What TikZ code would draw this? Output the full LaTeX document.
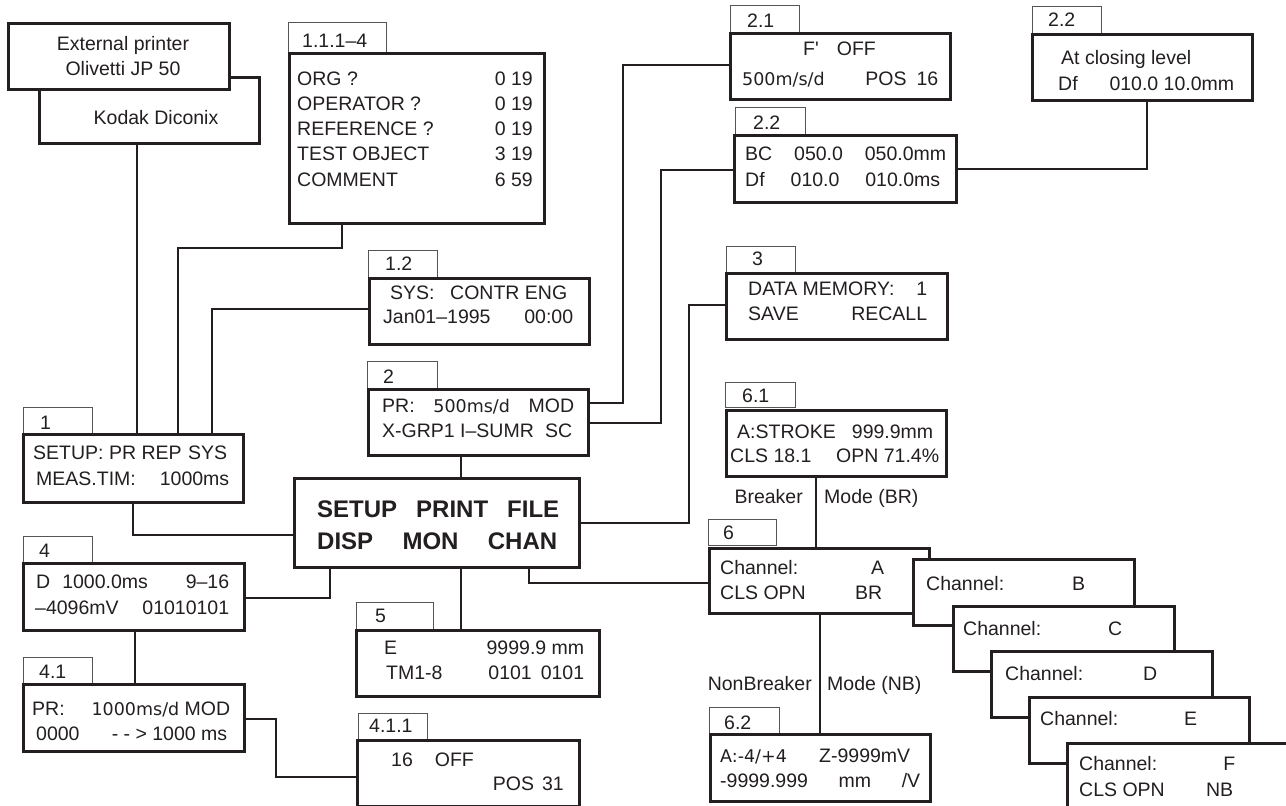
\documentclass[tikz,border=0pt]{standalone}
\usepackage{fontspec}
\setmainfont{Liberation Sans}
\newfontfamily\dvs{DejaVu Sans}
\definecolor{ink}{HTML}{231F20}
\definecolor{lblgray}{HTML}{555555}
\newcommand\spread[2]{\makebox[#1pt][l]{#2}}
\newcommand\vv[1]{{\dvs\fontsize{17.5}{21}\selectfont #1}}
\tikzset{
  scr/.style={draw=ink, line width=2.8pt, fill=white, inner sep=0pt, anchor=north west},
  lbl/.style={draw=lblgray, line width=1.3pt, fill=white, inner sep=0pt, anchor=north west},
  conn/.style={draw=ink, line width=2.8pt},
  tx/.style={inner sep=0pt, font=\fontsize{19.5}{23}\selectfont, text=ink},
  bx/.style={inner sep=0pt, font=\bfseries\fontsize{24}{28}\selectfont, text=ink},
}
\newcommand\mkbox[6][scr]{\node[#1, minimum width=#5pt, minimum height=#6pt] (#2) at (#3,#4) {};}
\begin{document}
\begin{tikzpicture}[x=1pt,y=-1pt]
\useasboundingbox (0,0) rectangle (1286,806);
\clip (0,0) rectangle (1286,806);

% ---------- boxes (nodes) ----------
\mkbox{kod}{38}{76}{220}{66}
\mkbox{ext}{7}{22}{221}{66}
\mkbox[lbl]{l111}{288}{22}{98}{30}
\mkbox{b111}{288}{52}{255}{170}
\mkbox[lbl]{l12}{368}{250}{69}{27}
\mkbox{b12}{368}{277}{220}{66}
\mkbox[lbl]{l2}{367}{361}{70}{27}
\mkbox{b2}{367}{388}{220}{66}
\mkbox[lbl]{l1}{23}{407}{69}{26}
\mkbox{b1}{22}{433}{220}{68}
\mkbox{main}{293}{477}{285}{89}
\mkbox[lbl]{l4}{23}{536}{69}{26}
\mkbox{b4}{22}{562}{221}{67}
\mkbox[lbl]{l41}{23}{657}{69}{26}
\mkbox{b41}{22}{683}{221}{67}
\mkbox[lbl]{l411}{358}{713}{69}{26}
\mkbox{b411}{356}{739}{222}{66}
\mkbox[lbl]{l5}{356}{602}{77}{27}
\mkbox{b5}{355}{629}{243}{66}
\mkbox[lbl]{l21}{730}{5}{69}{27}
\mkbox{b21}{729}{32}{220}{66}
\mkbox[lbl]{l22}{735}{107}{70}{27}
\mkbox{b22}{733}{134}{222}{67}
\mkbox[lbl]{l22r}{1032}{6}{69}{27}
\mkbox{b22r}{1031}{33}{220}{66}
\mkbox[lbl]{l3}{726}{246}{69}{26}
\mkbox{b3}{725}{272}{221}{66}
\mkbox[lbl]{l61}{725}{382}{70}{25}
\mkbox{b61}{725}{409}{220}{66}
\mkbox[lbl]{l6}{708}{519}{68}{26}
\mkbox{b6}{708}{547}{220}{65}
\mkbox{chB}{912}{558}{221}{66}
\mkbox{chC}{952}{605}{221}{65}
\mkbox{chD}{990}{650}{221}{66}
\mkbox{chE}{1028}{696}{220}{66}
\mkbox{chF}{1066}{742}{221}{66}
\mkbox[lbl]{l62}{709}{707}{70}{26}
\mkbox{b62}{709}{733}{220}{67}

% ---------- connectors ----------
\draw[conn] (kod.south -| 137,0) -- (b1.north -| 137,0);
\draw[conn] (b111.south -| 342,0) -- (342,248) -- (178,248) -- (b1.north -| 178,0);
\draw[conn] (b12.west |- 0,309) -- (212,309) -- (b1.north -| 212,0);
\draw[conn] (b1.south -| 133,0) -- (133,535) -- (main.west |- 0,535);
\draw[conn] (b2.east |- 0,403) -- (623,403) -- (623,65) -- (b21.west |- 0,65);
\draw[conn] (b2.east |- 0,423) -- (661,423) -- (661,170) -- (b22.west |- 0,170);
\draw[conn] (b2.south -| 461,0) -- (main.north -| 461,0);
\draw[conn] (b22.east |- 0,169) -- (1147,169) -- (b22r.south -| 1147,0);
\draw[conn] (main.east |- 0,523) -- (689,523) -- (689,305) -- (b3.west |- 0,305);
\draw[conn] (main.south -| 330,0) -- (330,598) -- (b4.east |- 0,598);
\draw[conn] (b4.south -| 135,0) -- (b41.north -| 135,0);
\draw[conn] (b41.east |- 0,719) -- (276,719) -- (276,777) -- (b411.west |- 0,777);
\draw[conn] (main.south -| 461,0) -- (b5.north -| 461,0);
\draw[conn] (main.south -| 529,0) -- (529,583) -- (b6.west |- 0,583);
\draw[conn] (b61.south -| 816,0) -- (b6.north -| 816,0);
\draw[conn] (b6.south -| 820,0) -- (b62.north -| 820,0);

% ---------- label texts ----------
\node[tx, anchor=base west] (tl111) at (302,47) {1.1.1–4};
\node[tx, anchor=base west] (tl12) at (385,270) {1.2};
\node[tx, anchor=base west] (tl2) at (383,383) {2};
\node[tx, anchor=base west] (tl1) at (40,429) {1};
\node[tx, anchor=base west] (tl4) at (39,557) {4};
\node[tx, anchor=base west] (tl41) at (39,678) {4.1};
\node[tx, anchor=base west] (tl411) at (369,732) {4.1.1};
\node[tx, anchor=base west] (tl5) at (375,622) {5};
\node[tx, anchor=base west] (tl6) at (723,539) {6};
\node[tx, anchor=base west] (tl62) at (724,729) {6.2};
\node[tx, anchor=base west] (tl61) at (742,402) {6.1};
\node[tx, anchor=base west] (tl3) at (752,265) {3};
\node[tx, anchor=base west] (tl21) at (747,27) {2.1};
\node[tx, anchor=base west] (tl22) at (753,129) {2.2};
\node[tx, anchor=base west] (tl22r) at (1048,26) {2.2};

% ---------- box texts ----------
\node[tx, anchor=base] (text1) at (123,50) {External printer};
\node[tx, anchor=base] (text2) at (123,75) {Olivetti JP 50};
\node[tx, anchor=base] (tkod) at (156,124) {Kodak Diconix};

\node[tx, anchor=base west] (o1) at (297,85) {ORG ?};
\node[tx, anchor=base west] (o2) at (297,110) {OPERATOR ?};
\node[tx, anchor=base west] (o3) at (297,135) {REFERENCE ?};
\node[tx, anchor=base west] (o4) at (297,160) {TEST OBJECT};
\node[tx, anchor=base west] (o5) at (297,186) {COMMENT};
\node[tx, anchor=base east] (v1) at (533,85) {0 19};
\node[tx, anchor=base east] (v2) at (533,110) {0 19};
\node[tx, anchor=base east] (v3) at (533,135) {0 19};
\node[tx, anchor=base east] (v4) at (533,160) {3 19};
\node[tx, anchor=base east] (v5) at (533,186) {6 59};

\node[tx, anchor=base west] (s1) at (390,299) {\spread{177}{SYS:\hfill CONTR ENG}};
\node[tx, anchor=base west] (s2) at (383,323) {\spread{190}{Jan01–1995\hfill 00:00}};

\node[tx, anchor=base west] (p1) at (382,412) {\spread{192}{PR:\hfill \vv{500ms/d}\hfill MOD}};
\node[tx, anchor=base west] (p2) at (382,437) {\spread{190}{X-GRP1 I–SUMR\hfill SC}};

\node[tx, anchor=base west] (u1) at (33,459) {\spread{194}{SETUP: PR REP\hfill SYS}};
\node[tx, anchor=base west] (u2) at (36,485) {\spread{193}{MEAS.TIM:\hfill 1000ms}};

\node[bx, anchor=base west] (m1) at (317,517) {\spread{242}{SETUP\hfill PRINT\hfill FILE}};
\node[bx, anchor=base west] (m2) at (317,549) {\spread{240}{DISP\hfill MON\hfill CHAN}};

\node[tx, anchor=base west] (d1) at (36,588) {\spread{193}{D\hspace{12pt}1000.0ms\hfill 9–16}};
\node[tx, anchor=base west] (d2) at (35,614) {\spread{194}{–4096mV\hfill 01010101}};

\node[tx, anchor=base west] (r1) at (32,715) {\spread{198}{PR:\hfill \vv{1000ms/d} MOD}};
\node[tx, anchor=base west] (r2) at (36,740) {\spread{191}{0000\hfill - - > 1000 ms}};

\node[tx, anchor=base west] (q1) at (391,766) {16\hspace{22pt}OFF};
\node[tx, anchor=base east] (q2) at (564,790) {POS\hspace{8pt}31};

\node[tx, anchor=base west] (e1) at (384,654) {\spread{200}{E\hfill 9999.9 mm}};
\node[tx, anchor=base west] (e2) at (386,679) {\spread{198}{TM1-8\hfill 0101\hspace{9pt}0101}};

\node[tx, anchor=base west] (f1) at (803,55) {F\textquotesingle\hspace{18pt}OFF};
\node[tx, anchor=base west] (f2) at (742,85) {\spread{196}{\vv{500m/s/d}\hfill POS\hspace{10pt}16}};

\node[tx, anchor=base west] (g1) at (745,160) {\spread{201}{BC\hfill 050.0\hfill 050.0mm}};
\node[tx, anchor=base west] (g2) at (745,186) {\spread{195}{Df\hfill 010.0\hfill 010.0ms}};

\node[tx, anchor=base west] (h1) at (1061,64) {At closing level};
\node[tx, anchor=base west] (h2) at (1058,90) {\spread{176}{Df\hfill 010.0 10.0mm}};

\node[tx, anchor=base west] (k1) at (748,295) {\spread{179}{DATA MEMORY:\hfill 1}};
\node[tx, anchor=base west] (k2) at (748,320) {\spread{179}{SAVE\hfill RECALL}};

\node[tx, anchor=base west] (a1) at (737,438) {\spread{196}{A:STROKE\hfill 999.9mm}};
\node[tx, anchor=base west] (a2) at (730,462) {\spread{209}{CLS 18.1\hfill OPN 71.4\%}};

\node[tx, anchor=base east] (brk) at (803,503) {Breaker};
\node[tx, anchor=base west] (mbr) at (824,503) {Mode (BR)};

\node[tx, anchor=base west] (cA1) at (720,574) {\spread{164}{Channel:\hfill A}};
\node[tx, anchor=base west] (cA2) at (720,599) {\spread{162}{CLS OPN\hfill BR}};
\node[tx, anchor=base west] (cB) at (926,590) {\spread{159}{Channel:\hfill B}};
\node[tx, anchor=base west] (cC) at (963,635) {\spread{159}{Channel:\hfill C}};
\node[tx, anchor=base west] (cD) at (1005,680) {\spread{152}{Channel:\hfill D}};
\node[tx, anchor=base west] (cE) at (1040,725) {\spread{157}{Channel:\hfill E}};
\node[tx, anchor=base west] (cF1) at (1079,770) {\spread{156}{Channel:\hfill F}};
\node[tx, anchor=base west] (cF2) at (1079,796) {\spread{154}{CLS OPN\hfill NB}};

\node[tx, anchor=base east] (nbk) at (812,690) {NonBreaker};
\node[tx, anchor=base west] (mnb) at (827,690) {Mode (NB)};

\node[tx, anchor=base west] (n1) at (720,762) {\spread{190}{\vv{A:-4/+4}\hfill Z-9999mV}};
\node[tx, anchor=base west] (n2) at (720,787) {\spread{200}{-9999.999\hfill mm\hfill /V}};
\end{tikzpicture}
\end{document}
